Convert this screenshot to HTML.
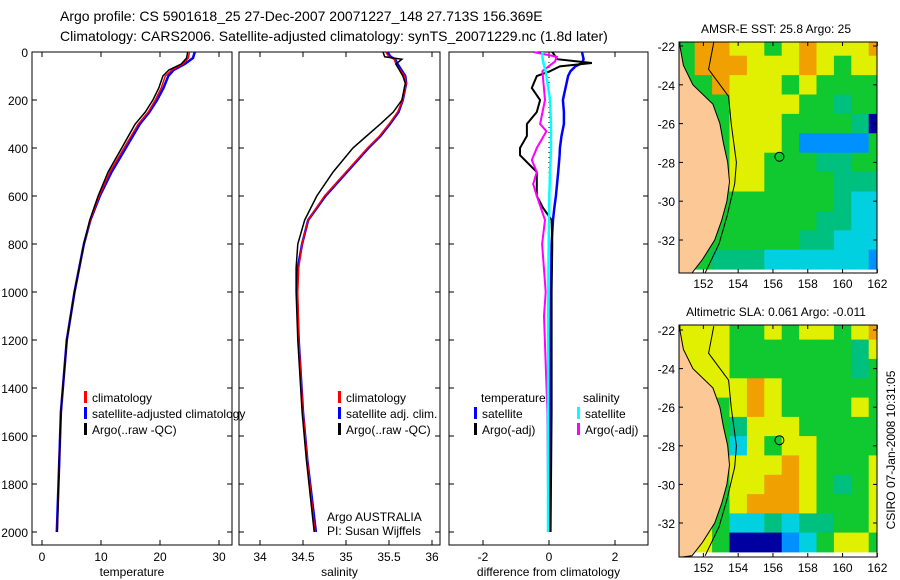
<!DOCTYPE html>
<html><head><meta charset="utf-8">
<style>
html,body{margin:0;padding:0;background:#fff;}
svg{display:block;font-family:"Liberation Sans",sans-serif;}
text{font-size:12px;fill:#000;}
</style></head>
<body>
<svg id="fig" width="900" height="580" viewBox="0 0 900 580" xmlns="http://www.w3.org/2000/svg">
<text x="60" y="21" style="font-size:14px">Argo profile: CS 5901618_25 27-Dec-2007 20071227_148 27.713S 156.369E</text>
<text x="60" y="41" style="font-size:14px">Climatology: CARS2006. Satellite-adjusted climatology: synTS_20071229.nc (1.8d later)</text>
<g id="plots"></g>
</svg>
<script>
// ---- profile data ----
const depthT = [0,25,50,75,100,150,200,250,300,400,500,600,700,800,1000,1200,1500,1800,2000];
const argoT = [24.7,24.5,23.6,21.5,20.5,19.8,18.8,17.5,15.8,13.5,11.2,9.5,8.1,7.1,5.5,4.2,3.2,2.8,2.6];
const climT = [25.0,24.8,23.9,22.0,20.9,20.2,19.2,18.0,16.3,13.9,11.5,9.7,8.2,7.1,5.5,4.2,3.2,2.8,2.6];
const satT = [25.9,25.6,24.2,22.3,21.4,20.6,19.5,18.2,16.6,14.2,11.8,9.8,8.2,7.1,5.5,4.2,3.2,2.8,2.5];
const depthS = [0,20,30,50,100,130,200,250,300,350,400,500,600,700,800,900,1000,1200,1500,1700,2000];
const argoS = [35.43,35.45,35.65,35.58,35.66,35.69,35.65,35.55,35.40,35.24,35.08,34.85,34.66,34.52,34.44,34.42,34.42,34.44,34.49,34.54,34.63];
const climS = [35.46,35.50,35.56,35.58,35.68,35.70,35.66,35.60,35.50,35.39,35.25,35.00,34.75,34.56,34.49,34.45,34.44,34.45,34.50,34.55,34.64];
const satS = [35.48,35.52,35.57,35.60,35.69,35.70,35.66,35.61,35.51,35.40,35.26,35.01,34.76,34.56,34.49,34.44,34.43,34.45,34.50,34.55,34.65];
const depthDT = [0,30,46,60,80,100,150,200,250,300,350,400,430,500,600,650,700,800,1000,1500,2000];
const argoDT = [0.1,0.25,1.3,0.33,0.03,-0.37,-0.52,-0.27,-0.37,-0.67,-0.67,-0.88,-0.88,-0.37,-0.37,-0.18,0.08,0.1,0.08,0.08,0.05];
const satDT = [1.0,1.05,1.0,0.8,0.65,0.58,0.5,0.42,0.45,0.45,0.38,0.33,0.32,0.28,0.21,0.16,0.12,0.08,0.06,0.04,0.03];
const depthDS = [0,20,40,80,200,300,330,400,450,500,550,600,700,800,1000,1100,1500,2000];
const satDS = [-0.2,-0.2,-0.18,-0.1,0.03,0.06,0.06,0.06,0.05,0.03,0.02,0.01,0.0,-0.01,-0.02,-0.02,-0.03,-0.03];
const argoDS = [-0.48,0.24,0.18,-0.2,-0.12,-0.27,-0.08,-0.37,-0.52,-0.37,-0.48,-0.37,-0.12,-0.21,-0.1,-0.15,-0.05,-0.02];
const depthTicks = [0,200,400,600,800,1000,1200,1400,1600,1800,2000];
const tempTicks = [0,10,20,30];
const salTicks = [34,34.5,35,35.5,36];
const diffTicks = [-2,0,2];
// ---- map data (1-degree cells, rows lat -22..-33, cols lon 151..162) ----
const latTicks = [-22,-24,-26,-28,-30,-32];
const lonTicks = [152,154,156,158,160,162];
const sstGrid = ["GOOYYGYOYYYO","GOOOYYYOYGYY","GGOYYYGYGGGG","GGGYYYYGGTGG","GGGYYYGGGGTN","GGGYYYGBBBBG","GGGYYGGGTTGG","GGGYYGGGGTTT","GGGGGGGGGTCC","GGGGGGGGTTCC","GGGGGGGTTCCC","GGTTTCCCCCCB"];
const slaGrid = ["YYYGGYGYYGYO","YYYGGGGGGGTY","YYYGGGGGGGTG","YYYYOYGGGGGG","YYGYOYGGGGYG","YYGTYYYGGGGG","YYGCYGYYGGGG","YYGYYYOYGGGY","YYGYYOOYGTGY","YYGYOOOYGGGY","YYGCCTCTTGGY","YYGNNNBCGYYG"];
const coastLat = [-21.8,-22,-23,-24,-25,-26,-27,-28,-29,-30,-31,-32,-33,-33.7];
const coastLon = [150.65,150.65,150.85,151.4,152.55,152.95,153.15,153.4,153.5,153.35,153.05,152.65,151.95,151.35];
const shelfLat = [-21.8,-23.2,-24.6,-26,-28,-29.1,-30.8,-32.2,-33.7];
const shelfLon = [152.6,152.3,153.45,153.6,153.9,153.8,153.35,152.9,152.1];
const argoLon = 156.37, argoLat = -27.71;

const NS = "http://www.w3.org/2000/svg";
const root = document.getElementById('plots');
function mk(tag, attrs, parent){const e=document.createElementNS(NS,tag);for(const k in attrs)e.setAttribute(k,attrs[k]);(parent||root).appendChild(e);return e;}
function txt(x,y,s,anchor,parent,extra){const t=mk('text',Object.assign({x:x,y:y,'text-anchor':anchor||'start'},extra||{}),parent);t.textContent=s;return t;}

const yD = d => 52 + d*0.24;
const PT = 545;
function panel(x0,x1,name,xs,ticks,label,showY){
  const g=mk('g',{});
  
  
  const r=mk('rect',{x:x0,y:52,width:x1-x0,height:PT-52,fill:'none',stroke:'#000','stroke-width':1},g);
  
  
  depthTicks.forEach(d=>{
    mk('line',{x1:x0,x2:x0+5,y1:yD(d),y2:yD(d),stroke:'#000'},g);
    mk('line',{x1:x1-5,x2:x1,y1:yD(d),y2:yD(d),stroke:'#000'},g);
    if(showY){const t=txt(x0-4,yD(d)+5,String(d),'end',g);
      
      }
  });
  ticks.forEach(v=>{
    mk('line',{x1:xs(v),x2:xs(v),y1:52,y2:57,stroke:'#000'},g);
    mk('line',{x1:xs(v),x2:xs(v),y1:PT-5,y2:PT,stroke:'#000'},g);
    const t=txt(xs(v),561,String(v),'middle',g);
    
    
  });
  const lt=txt((x0+x1)/2,576,label,'middle',g);
  
  
  return g;
}
function line(g,xs,vals,deps,color,w,name,dash){
  const pts=vals.map((v,i)=>xs(v).toFixed(1)+','+yD(deps[i]).toFixed(1)).join(' ');
  const p=mk('polyline',{points:pts,fill:'none',stroke:color,'stroke-width':w,'stroke-linejoin':'miter'},g);
  if(dash)p.setAttribute('stroke-dasharray',dash);
  
  
}
function legend(g,x,y,color,label){
  const b=mk('rect',{x:x,y:y-6,width:3,height:12,fill:color},g);
  
  
  const t=txt(x+8,y+5,label,'start',g);
  
  
}

// Panel 1 temperature
const xT = v => 42 + v*5.9;
const g1 = panel(32,232,'temperature-panel',xT,tempTicks,'temperature',true);
line(g1,xT,satT,depthT,'#0000ff',2.5,'satellite-temperature-line');
line(g1,xT,climT,depthT,'#ff0000',1.5,'climatology-temperature-line');
line(g1,xT,argoT,depthT,'#000',1.5,'argo-temperature-line');
legend(g1,84,397,'#ff0000','climatology');
legend(g1,84,413,'#0000ff','satellite-adjusted climatology');
legend(g1,84,429,'#000','Argo(..raw -QC)');

// Panel 2 salinity
const xS = v => 260 + (v-34)*86;
const g2 = panel(239,440,'salinity-panel',xS,salTicks,'salinity',false);
line(g2,xS,satS,depthS,'#0000ff',2.5,'satellite-salinity-line');
line(g2,xS,climS,depthS,'#ff0000',1.5,'climatology-salinity-line');
line(g2,xS,argoS,depthS,'#000',1.5,'argo-salinity-line');
legend(g2,338,397,'#ff0000','climatology');
legend(g2,338,413,'#0000ff','satellite adj. clim.');
legend(g2,338,429,'#000','Argo(..raw -QC)');
const a1=txt(327,521,'Argo AUSTRALIA','start',g2);


const a2=txt(327,535,'PI: Susan Wijffels','start',g2);



// Panel 3 differences
const xDf = v => 549 + v*33;
const g3 = panel(449,648,'difference-panel',xDf,diffTicks,'difference from climatology',false);
const zl=mk('line',{x1:xDf(0),x2:xDf(0),y1:yD(0),y2:yD(700),stroke:'#000','stroke-dasharray':'1,4'},g3);


line(g3,xDf,satDT,depthDT,'#0000ff',2.5,'satellite-temp-diff-line');
line(g3,xDf,argoDT,depthDT,'#000',2,'argo-temp-diff-line');
line(g3,xDf,argoDS,depthDS,'#ff00ff',2,'argo-sal-diff-line');
line(g3,xDf,satDS,depthDS,'#00ffff',2.5,'satellite-sal-diff-line');
const lh1=txt(481,402,'temperature','start',g3);


const lh2=txt(583,402,'salinity','start',g3);


legend(g3,474,413,'#0000ff','satellite');
legend(g3,474,429,'#000','Argo(-adj)');
legend(g3,577,413,'#00ffff','satellite');
legend(g3,577,429,'#ff00ff','Argo(-adj)');

// ---- maps ----
const COL={O:'#f0a000',Y:'#e0f000',G:'#10c830',T:'#00c080',C:'#00d0e0',B:'#0090ff',N:'#0000a0'};
function mapPanel(name,top,bottom,lat22,grid,title){
  const g=mk('g',{});
  
  
  const L=679,R=877,k=(lat22===46?19.4:19.3);
  const mx=lon=>L+(lon-150.6)*17.4, my=lat=>lat22+(-22-lat)*k;
  const cp=mk('clipPath',{id:name+'-clip'},g); mk('rect',{x:L,y:top,width:R-L,height:bottom-top},cp);
  const inner=mk('g',{'clip-path':'url(#'+name+'-clip)'},g);
  grid.forEach((row,i)=>{[...row].forEach((c,j)=>{
    const lat=-21.5-i, lon=150.5+j;
    const r=mk('rect',{x:mx(lon).toFixed(1),y:my(lat).toFixed(1),width:17.9,height:k+0.5,fill:COL[c]},inner);
    
    
  });});
  // extend last row to bottom
  let pts=coastLat.map((la,i)=>mx(coastLon[i]).toFixed(1)+','+my(la).toFixed(1));
  pts.push(mx(150.4)+','+my(-33.8)); pts.push(mx(150.4)+','+my(-21.8));
  const land=mk('polygon',{points:pts.join(' '),fill:'#fcc896',stroke:'#000','stroke-width':1},inner);
  
  
  const sh=mk('polyline',{points:shelfLat.map((la,i)=>mx(shelfLon[i]).toFixed(1)+','+my(la).toFixed(1)).join(' '),fill:'none',stroke:'#000','stroke-width':1},inner);
  
  
  const c=mk('circle',{cx:mx(argoLon),cy:my(argoLat),r:4.5,fill:'none',stroke:'#000','stroke-width':1},inner);
  
  
  const fr=mk('rect',{x:L,y:top,width:R-L,height:bottom-top,fill:'none',stroke:'#000'},g);
  
  
  latTicks.forEach(la=>{
    mk('line',{x1:L,x2:L+4,y1:my(la),y2:my(la),stroke:'#000'},g);
    mk('line',{x1:R-4,x2:R,y1:my(la),y2:my(la),stroke:'#000'},g);
    const t=txt(L-4,my(la)+5,String(la),'end',g);
    
    
  });
  lonTicks.forEach(lo=>{
    mk('line',{x1:mx(lo),x2:mx(lo),y1:top,y2:top+4,stroke:'#000'},g);
    mk('line',{x1:mx(lo),x2:mx(lo),y1:bottom-4,y2:bottom,stroke:'#000'},g);
    const t=txt(mx(lo),bottom+15,String(lo),'middle',g);
    
    
  });
  const tt=txt(776,top-9,title,'middle',g);
  
  
}
mapPanel('sst-map',42,273,46,sstGrid,'AMSR-E SST: 25.8 Argo: 25');
mapPanel('sla-map',325,557,330,slaGrid,'Altimetric SLA: 0.061  Argo: -0.011');
const cs=txt(0,0,'CSIRO 07-Jan-2008 10:31:05','middle',root,{transform:'translate(895,450) rotate(-90)'});


</script>
</body></html>
